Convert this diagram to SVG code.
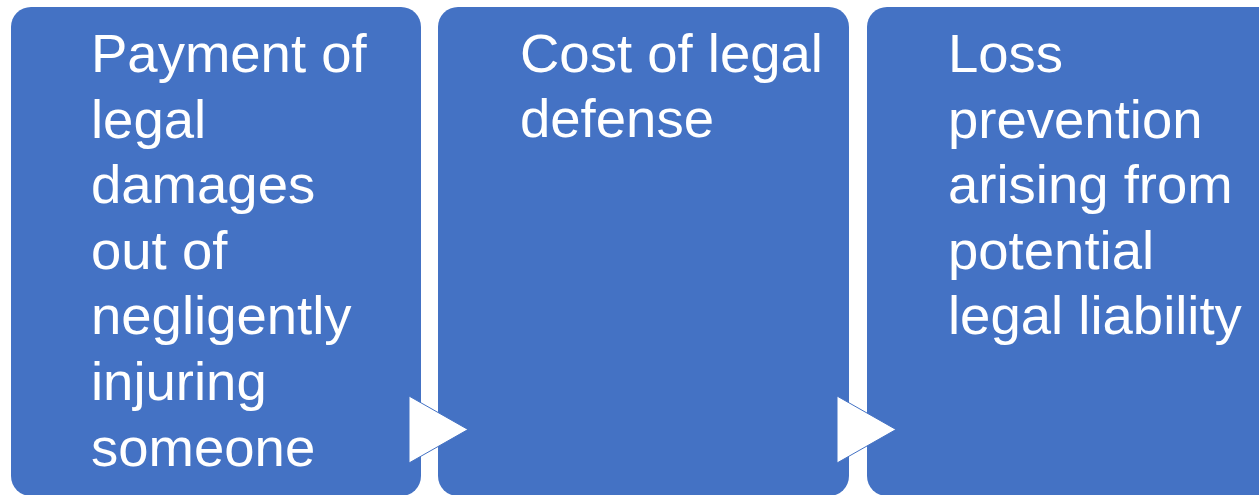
<svg xmlns="http://www.w3.org/2000/svg" width="1259" height="495" viewBox="0 0 1259 495">
<style>
.box{fill:#4472C4;}
.t{fill:#FFFFFF;font-family:"Liberation Sans",Arial,sans-serif;font-size:54.5px;}
.arr{fill:#FFFFFF;stroke:#4472C4;stroke-width:1;}
</style>
<rect width="1259" height="495" fill="#FFFFFF"/>
<g id="node1">
<rect class="box" x="11" y="7" width="410" height="489" rx="20" ry="20"/>
<text class="t" x="91"><tspan x="91" y="72">Payment of</tspan><tspan x="91" y="137.6">legal</tspan><tspan x="91" y="203.2">damages</tspan><tspan x="91" y="268.8">out of</tspan><tspan x="91" y="334.4">negligently</tspan><tspan x="91" y="400">injuring</tspan><tspan x="91" y="465.6">someone</tspan></text>
</g>
<g id="node2">
<rect class="box" x="438" y="7" width="411" height="489" rx="20" ry="20"/>
<text class="t" x="520"><tspan x="520" y="72">Cost of legal</tspan><tspan x="520" y="136.5">defense</tspan></text>
</g>
<g id="node3">
<rect class="box" x="867" y="7" width="410" height="489" rx="20" ry="20"/>
<text class="t" x="948"><tspan x="948" y="72">Loss</tspan><tspan x="948" y="137.6">prevention</tspan><tspan x="948" y="203.2">arising from</tspan><tspan x="948" y="268.8">potential</tspan><tspan x="948" y="334.4">legal liability</tspan></text>
</g>
<g id="connectors">
<polygon class="arr" points="409,396 468,429.5 409,463"/>
<polygon class="arr" points="837,396 896,429.5 837,463"/>
</g>
</svg>
